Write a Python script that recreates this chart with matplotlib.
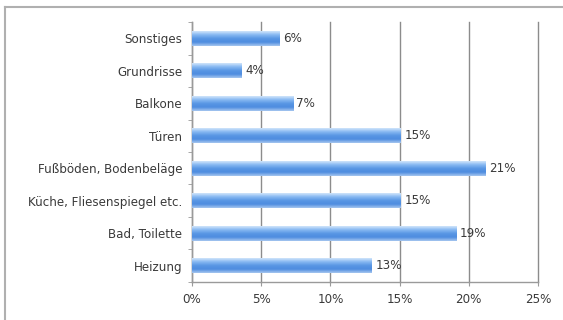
import numpy as np
import matplotlib
matplotlib.use('Agg')
import matplotlib.pyplot as plt
from matplotlib.colors import LinearSegmentedColormap
from matplotlib.lines import Line2D

categories = ['Sonstiges', 'Grundrisse', 'Balkone', 'Türen',
              'Fußböden, Bodenbeläge', 'Küche, Fliesenspiegel etc.',
              'Bad, Toilette', 'Heizung']
shares = [6.3, 3.6, 7.3, 15.1, 21.2, 15.1, 19.1, 13.0]
xticks = [0, 5, 10, 15, 20, 25]

text_col = '#3a3a3a'
axis_col = '#9a9a9a'
fs = 8.6

fig = plt.figure(figsize=(5.63, 3.2), dpi=100)
fig.patch.set_facecolor('white')
ax = fig.add_axes([0.341, 0.119, 0.6146, 0.812])

y = np.arange(len(categories))
bars = ax.barh(y, shares, height=0.45, color='#5b97e4', edgecolor='none', zorder=3)

# glossy vertical gradient inside each bar
cmap = LinearSegmentedColormap.from_list('gloss', [
    (0.0, '#d3e6fb'), (0.22, '#8cbcf3'), (0.5, '#5896e4'),
    (0.75, '#4d8cdf'), (1.0, '#a8c8f0')])
grad = np.linspace(0, 1, 64).reshape(-1, 1)
for b in bars:
    x0, y0 = b.get_x(), b.get_y()
    w, h = b.get_width(), b.get_height()
    im = ax.imshow(grad, cmap=cmap, extent=[x0, x0 + w, y0 + h, y0],
                   aspect='auto', interpolation='bicubic', zorder=4)
    im.set_clip_path(b)

for i, v in enumerate(shares):
    ax.text(v + 0.25, i, f'{v:.0f}%', va='center', ha='left',
            fontsize=fs, color=text_col, zorder=5)

ax.set_xlim(0, 25)
ax.set_ylim(len(categories) - 0.5, -0.5)

ax.set_xticks(xticks)
ax.set_xticklabels([f'{t}%' for t in xticks], fontsize=fs, color=text_col)
ax.set_yticks(y)
ax.set_yticklabels(categories, fontsize=fs, color=text_col)
ax.set_yticks(np.arange(-0.5, len(categories), 1), minor=True)
ax.tick_params(axis='y', which='major', length=0, pad=7)
ax.tick_params(axis='y', which='minor', length=3, color=axis_col, direction='out')
ax.tick_params(axis='x', length=3, color=axis_col, direction='out', pad=5)

ax.xaxis.grid(True, color='#8c8c8c', lw=1)
for gl in ax.get_xgridlines():
    gl.set_clip_on(False)
ax.set_axisbelow(True)
for s in ['top', 'right']:
    ax.spines[s].set_visible(False)
for s in ['left', 'bottom']:
    ax.spines[s].set_color(axis_col)
    ax.spines[s].set_linewidth(1)

# frame lines along the top and left edge of the figure
fig.add_artist(Line2D([5 / 563, 1], [1 - 7 / 320, 1 - 7 / 320],
                      transform=fig.transFigure, color='#b0b0b0', lw=1.5))
fig.add_artist(Line2D([5 / 563, 5 / 563], [0, 1 - 7 / 320],
                      transform=fig.transFigure, color='#b0b0b0', lw=1.5))

fig.savefig('out.png', dpi=100)
